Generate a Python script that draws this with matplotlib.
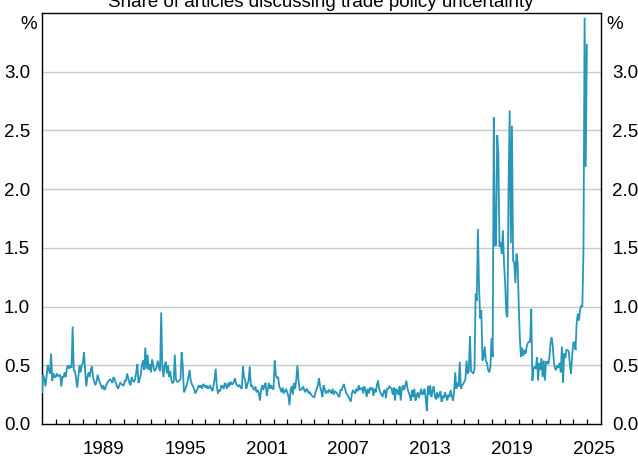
import numpy as np
import matplotlib
matplotlib.use("Agg")
import matplotlib.pyplot as plt
from matplotlib.ticker import FixedLocator, NullFormatter

# Monthly share of articles discussing trade policy uncertainty (%), Jan 1985 onwards
start_year = 1985

share_1985_1989 = [
    0.27, 0.42, 0.39, 0.32, 0.40, 0.50, 0.46, 0.43, 0.60, 0.37, 0.43, 0.40,
    0.40, 0.43, 0.41, 0.41, 0.42, 0.32, 0.40, 0.40, 0.44, 0.40, 0.48, 0.50,
    0.47, 0.50, 0.48, 0.83, 0.46, 0.45, 0.39, 0.31, 0.40, 0.50, 0.44, 0.50,
    0.52, 0.61, 0.45, 0.32, 0.40, 0.44, 0.40, 0.46, 0.49, 0.40, 0.36, 0.33,
    0.36, 0.42, 0.38, 0.35, 0.33, 0.30, 0.33, 0.29, 0.31, 0.34, 0.36, 0.37,
]
share_1990_1999 = [
    0.38, 0.37, 0.35, 0.40, 0.38, 0.35, 0.32, 0.30, 0.33, 0.35, 0.34, 0.33,
    0.33, 0.37, 0.37, 0.43, 0.39, 0.35, 0.33, 0.40, 0.37, 0.36, 0.38, 0.44,
    0.51, 0.35, 0.38, 0.42, 0.50, 0.54, 0.46, 0.65, 0.47, 0.59, 0.46, 0.51,
    0.44, 0.55, 0.50, 0.45, 0.46, 0.49, 0.54, 0.48, 0.45, 0.95, 0.49, 0.40,
    0.50, 0.53, 0.43, 0.50, 0.40, 0.45, 0.37, 0.35, 0.36, 0.59, 0.38, 0.36,
    0.36, 0.37, 0.38, 0.61, 0.50, 0.27, 0.29, 0.32, 0.35, 0.40, 0.46, 0.37,
    0.34, 0.32, 0.30, 0.26, 0.28, 0.30, 0.33, 0.31, 0.33, 0.30, 0.34, 0.33,
    0.31, 0.33, 0.30, 0.31, 0.33, 0.30, 0.28, 0.32, 0.38, 0.47, 0.32, 0.26,
    0.29, 0.28, 0.33, 0.32, 0.30, 0.35, 0.33, 0.30, 0.35, 0.32, 0.36, 0.34,
    0.34, 0.36, 0.39, 0.34, 0.33, 0.32, 0.33, 0.31, 0.30, 0.49, 0.40, 0.37,
]
share_2000_2009 = [
    0.30, 0.34, 0.37, 0.49, 0.32, 0.33, 0.30, 0.29, 0.32, 0.27, 0.29, 0.26,
    0.20, 0.29, 0.33, 0.29, 0.33, 0.35, 0.24, 0.30, 0.35, 0.30, 0.33, 0.30,
    0.30, 0.54, 0.42, 0.39, 0.40, 0.32, 0.30, 0.27, 0.31, 0.26, 0.28, 0.30,
    0.27, 0.24, 0.16, 0.29, 0.32, 0.25, 0.35, 0.30, 0.38, 0.50, 0.37, 0.29,
    0.29, 0.30, 0.32, 0.29, 0.27, 0.30, 0.29, 0.26, 0.27, 0.25, 0.24, 0.23,
    0.23, 0.27, 0.30, 0.33, 0.39, 0.32, 0.28, 0.23, 0.33, 0.30, 0.26, 0.28,
    0.27, 0.29, 0.28, 0.26, 0.30, 0.25, 0.28, 0.27, 0.26, 0.24, 0.23, 0.29,
    0.29, 0.32, 0.34, 0.30, 0.26, 0.25, 0.23, 0.21, 0.19, 0.26, 0.29, 0.27,
    0.26, 0.30, 0.28, 0.33, 0.29, 0.30, 0.31, 0.26, 0.32, 0.29, 0.23, 0.30,
    0.26, 0.31, 0.29, 0.31, 0.24, 0.30, 0.27, 0.33, 0.37, 0.30, 0.27, 0.25,
]
share_2010_2019 = [
    0.23, 0.28, 0.29, 0.22, 0.30, 0.30, 0.32, 0.31, 0.30, 0.25, 0.31, 0.20,
    0.30, 0.28, 0.25, 0.32, 0.20, 0.30, 0.33, 0.29, 0.33, 0.37, 0.30, 0.27,
    0.24, 0.20, 0.29, 0.23, 0.30, 0.20, 0.24, 0.27, 0.22, 0.26, 0.30, 0.25,
    0.26, 0.30, 0.22, 0.11, 0.32, 0.25, 0.33, 0.23, 0.28, 0.32, 0.24, 0.21,
    0.27, 0.22, 0.25, 0.28, 0.19, 0.24, 0.22, 0.27, 0.24, 0.20, 0.25, 0.23,
    0.29, 0.24, 0.20, 0.27, 0.44, 0.30, 0.35, 0.32, 0.53, 0.30, 0.33, 0.34,
    0.36, 0.38, 0.54, 0.43, 0.45, 0.75, 0.45, 0.44, 0.43, 0.47, 1.11, 1.05,
    1.66, 1.17, 0.90, 0.97, 0.54, 0.57, 0.66, 0.54, 0.52, 0.46, 0.44, 0.48,
    0.73, 0.57, 2.61, 1.52, 1.52, 2.46, 2.30, 1.51, 1.55, 1.45, 1.65, 1.37,
    1.20, 0.94, 0.91, 1.99, 2.67, 1.54, 2.54, 1.39, 1.38, 1.20, 1.45, 1.37,
]
share_2020_2025 = [
    1.00, 0.72, 0.57, 0.65, 0.58, 0.63, 0.60, 0.66, 0.69, 0.70, 0.70, 0.98,
    0.37, 0.47, 0.49, 0.47, 0.57, 0.37, 0.52, 0.46, 0.56, 0.40, 0.54, 0.37,
    0.53, 0.53, 0.51, 0.57, 0.69, 0.74, 0.66, 0.52, 0.47, 0.46, 0.50, 0.48,
    0.52, 0.44, 0.66, 0.35, 0.60, 0.56, 0.63, 0.63, 0.62, 0.51, 0.43, 0.58,
    0.69, 0.70, 0.63, 0.86, 0.94, 0.88, 0.97, 1.01, 1.00, 1.48, 3.46, 2.19,
    3.23,
]

label_years = [1989, 1995, 2001, 2007, 2013, 2019, 2025]
y_ticks = [0.0, 0.5, 1.0, 1.5, 2.0, 2.5, 3.0]
x_range = (1985, 2026)
y_range = (0.0, 3.5)

title = "Share of articles discussing trade policy uncertainty"
line_colour = "#2896b9"
grid_colour = "#c8c8c8"

share = np.array(share_1985_1989 + share_1990_1999 + share_2000_2009
                 + share_2010_2019 + share_2020_2025)
t = start_year + np.arange(len(share)) / 12.0

plt.rcParams["font.family"] = ["Liberation Sans", "DejaVu Sans"]
fs = 13.5

fig = plt.figure(figsize=(6.38, 4.57), dpi=100)
ax = fig.add_axes([42 / 638, 1 - 424 / 457, (600.5 - 42) / 638, (424 - 13) / 457])

ax.plot(t, share, color=line_colour, lw=1.3, solid_joinstyle="miter", zorder=3)

ax.set_xlim(*x_range)
ax.set_ylim(*y_range)

# horizontal gridlines
for yv in y_ticks[1:]:
    ax.axhline(yv, color=grid_colour, lw=1.0, zorder=1)

# y axis: labels both sides, no tick marks
ax.set_yticks(y_ticks)
ax.set_yticklabels([f"{v:.1f}" for v in y_ticks])
ax.tick_params(axis="y", which="both", left=False, right=False,
               labelleft=True, labelright=True, labelsize=fs, pad=5)
for lab in ax.get_yticklabels(which="both"):
    lab.set_fontsize(fs)

# x axis: yearly tick marks inside, labels centred on the year
ax.xaxis.set_minor_locator(FixedLocator(np.arange(x_range[0] + 1, x_range[1])))
ax.xaxis.set_minor_formatter(NullFormatter())
ax.set_xticks([y + 0.5 for y in label_years])
ax.set_xticklabels([str(y) for y in label_years])
ax.tick_params(axis="x", which="major", length=0, labelsize=fs, pad=12.5)
ax.tick_params(axis="x", which="minor", direction="in", length=3.8,
               width=0.9, color="black", top=False)

for sp in ax.spines.values():
    sp.set_color("black")
    sp.set_linewidth(1.0)

# unit labels above the value scales
pct_y = 3.40
ax.text(-5 / 558.5, pct_y, "%", transform=ax.get_yaxis_transform(),
        ha="right", va="center", fontsize=fs)
ax.text(1 + 6 / 558.5, pct_y, "%", transform=ax.get_yaxis_transform(),
        ha="left", va="center", fontsize=fs)

fig.text(0.5 * (42 + 600.5) / 638, 1 - 7 / 457, title, ha="center",
         va="baseline", fontsize=fs)

fig.savefig("out.png", dpi=100)
